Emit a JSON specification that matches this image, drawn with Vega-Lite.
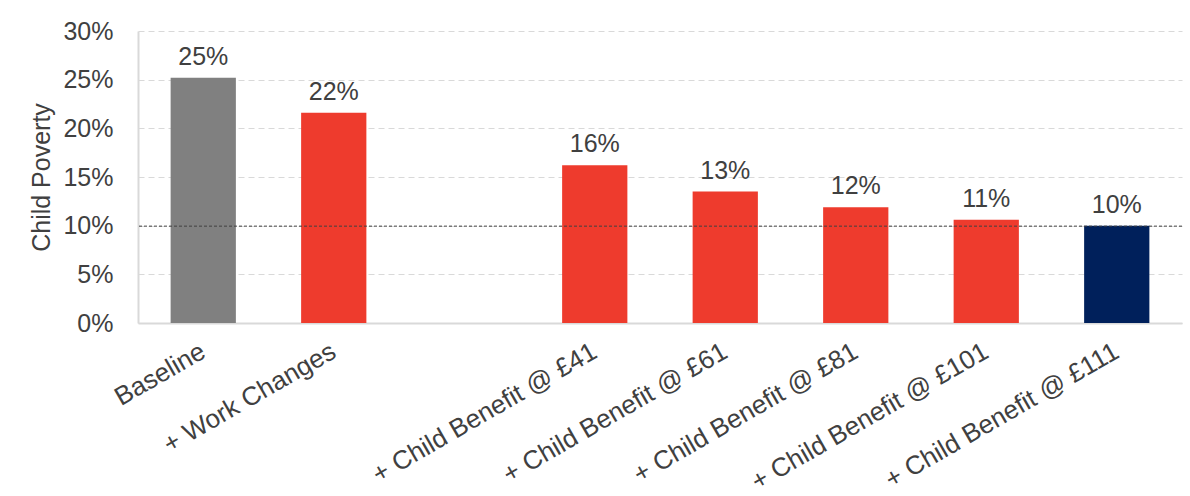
{
  "$schema": "https://vega.github.io/schema/vega-lite/v6.json",
  "width": 1044,
  "height": 292,
  "autosize": {"type": "none"},
  "padding": {"left": 138, "top": 31, "right": 8, "bottom": 173},
  "background": "white",
  "config": {
    "view": {"stroke": null},
    "font": "Liberation Sans"
  },
  "data": {
    "values": [
      {"scenario": "Baseline", "value": 0.252, "label": "25%", "group": "base"},
      {"scenario": "+ Work Changes", "value": 0.216, "label": "22%", "group": "step"},
      {"scenario": "+ Child Benefit @ £41", "value": 0.162, "label": "16%", "group": "step"},
      {"scenario": "+ Child Benefit @ £61", "value": 0.135, "label": "13%", "group": "step"},
      {"scenario": "+ Child Benefit @ £81", "value": 0.119, "label": "12%", "group": "step"},
      {"scenario": "+ Child Benefit @ £101", "value": 0.106, "label": "11%", "group": "step"},
      {"scenario": "+ Child Benefit @ £111", "value": 0.100, "label": "10%", "group": "final"}
    ]
  },
  "layer": [
    {
      "mark": {"type": "bar"},
      "encoding": {
        "x": {
          "field": "scenario",
          "type": "nominal",
          "scale": {
            "domain": ["Baseline", "+ Work Changes", " ", "+ Child Benefit @ £41", "+ Child Benefit @ £61", "+ Child Benefit @ £81", "+ Child Benefit @ £101", "+ Child Benefit @ £111"],
            "paddingInner": 0.5,
            "paddingOuter": 0.25
          },
          "axis": {
            "title": null,
            "labelAngle": -30,
            "labelAlign": "right",
            "labelBaseline": "middle",
            "labelFontSize": 26,
            "labelColor": "#404040",
            "labelPadding": 26,
            "ticks": false,
            "domainColor": "#d9d9d9",
            "domainWidth": 2,
            "labelLimit": 400,
            "labelOverlap": false
          }
        },
        "y": {
          "field": "value",
          "type": "quantitative",
          "scale": {"domain": [0, 0.3], "nice": false},
          "axis": {
            "title": "Child Poverty",
            "titleFontSize": 25,
            "titleFontWeight": "normal",
            "titleColor": "#404040",
            "titlePadding": 8,
            "format": ".0%",
            "values": [0, 0.05, 0.1, 0.15, 0.2, 0.25, 0.3],
            "labelFontSize": 25,
            "labelColor": "#404040",
            "labelPadding": 25,
            "labelOverlap": false,
            "ticks": false,
            "domainColor": "#d9d9d9",
            "domainWidth": 2,
            "gridColor": "#d9d9d9",
            "gridDash": [6, 4],
            "gridWidth": 1
          }
        },
        "color": {
          "field": "group",
          "type": "nominal",
          "scale": {"domain": ["base", "step", "final"], "range": ["#808080", "#ee3b2d", "#00205b"]},
          "legend": null
        }
      }
    },
    {
      "mark": {"type": "text", "baseline": "bottom", "dy": -8, "fontSize": 25, "color": "#404040"},
      "encoding": {
        "x": {"field": "scenario", "type": "nominal"},
        "y": {"field": "value", "type": "quantitative"},
        "text": {"field": "label"}
      }
    },
    {
      "data": {"values": [{"ref": 0.0995}]},
      "mark": {"type": "rule", "strokeDash": [3, 2], "color": "#404040", "strokeWidth": 1},
      "encoding": {
        "y": {"field": "ref", "type": "quantitative"}
      }
    }
  ]
}
